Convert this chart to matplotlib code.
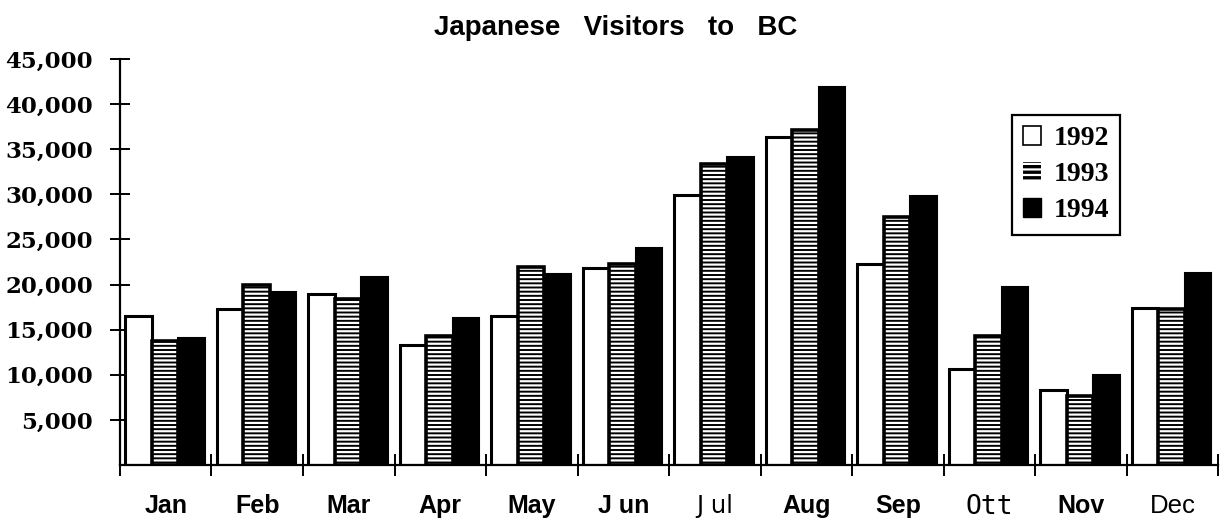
import matplotlib.pyplot as plt
from matplotlib.patches import Patch
import numpy as np

months = ["Jan", "Feb", "Mar", "Apr", "May", "J un", "J ul", "Aug", "Sep", "Ott", "Nov", "Dec"]
visitors_1992 = [16500, 17300, 19000, 13300, 16500, 21800, 29900, 36300, 22300, 10600, 8300, 17400]
visitors_1993 = [13700, 19900, 18400, 14300, 21900, 22300, 33400, 37100, 27500, 14300, 7600, 17300]
visitors_1994 = [14100, 19200, 20800, 16300, 21200, 24000, 34100, 41900, 29800, 19700, 10000, 21300]
y_ticks = [5000, 10000, 15000, 20000, 25000, 30000, 35000, 40000, 45000]


def plot_visitors():
    """
    Grouped bar chart of monthly Japanese visitors for three years
    :return: None
    """
    plt.rcParams['hatch.linewidth'] = 1.6
    fig = plt.figure(figsize=(12.28, 5.21), dpi=100)
    ax = fig.add_axes([0.0977, 0.1075, 0.8943, 0.7793])

    x = np.arange(len(months))
    width = 0.29

    # 1992 - open bars
    ax.bar(x + 0.20, visitors_1992, width, facecolor="white", edgecolor="black", linewidth=2.2, zorder=2)
    # 1993 - black bars with white stripes, outline drawn on top
    ax.bar(x + 0.49, visitors_1993, width, facecolor="black", edgecolor="white", hatch="----",
           linewidth=0, zorder=2)
    ax.bar(x + 0.49, visitors_1993, width, fill=False, edgecolor="black", linewidth=2.6, zorder=3)
    # 1994 - solid black
    ax.bar(x + 0.78, visitors_1994, width, facecolor="black", edgecolor="black", linewidth=1.5, zorder=2)

    ax.set_xlim(0, 12)
    ax.set_ylim(0, 45000)
    for side in ["top", "right"]:
        ax.spines[side].set_visible(False)
    ax.spines["left"].set_linewidth(1.6)
    ax.spines["bottom"].set_linewidth(1.6)

    ax.set_yticks(y_ticks)
    ax.set_yticklabels(["{:,}".format(v) for v in y_ticks], family="DejaVu Serif", fontsize=16.5,
                       fontweight="bold")
    ax.tick_params(axis="y", direction="inout", length=15, width=1.4, pad=12)

    # group boundaries get the tick marks, month names sit at the group centres
    ax.set_xticks(np.arange(0, 13))
    ax.set_xticklabels([])
    ax.tick_params(axis="x", which="major", direction="inout", length=16, width=1.4)
    ax.set_xticks(x + 0.5, minor=True)
    ax.set_xticklabels(months, minor=True)
    ax.tick_params(axis="x", which="minor", length=0, pad=21)
    for label in ax.get_xticklabels(minor=True):
        text = label.get_text()
        if text == "J ul":
            label.set_fontproperties({"family": "Liberation Sans Narrow", "size": 17.5})
        elif text == "Ott":
            label.set_fontproperties({"family": "DejaVu Sans Mono", "size": 19})
        elif text == "Dec":
            label.set_fontproperties({"family": "Liberation Sans", "size": 18.5})
        else:
            label.set_fontproperties({"family": "Liberation Sans", "size": 18, "weight": "bold"})

    # title is centred on the whole figure, not on the plot area
    fig.text(0.501, 0.946, "Japanese   Visitors   to   BC", family="Liberation Sans", fontsize=20,
             fontweight="bold", ha="center", va="center")

    handles = [
        Patch(facecolor="white", edgecolor="black", linewidth=1.2),
        Patch(facecolor="black", edgecolor="white", hatch="---", linewidth=0),
        Patch(facecolor="black", edgecolor="black"),
    ]
    legend = ax.legend(handles, ["1992", "1993", "1994"], loc="upper left", bbox_to_anchor=(0.8124, 0.862),
                       borderaxespad=0,
                       prop={"family": "Liberation Serif", "size": 20, "weight": "bold"},
                       handlelength=0.65, handleheight=0.65, handletextpad=0.45, labelspacing=0.4,
                       fancybox=False, edgecolor="black", framealpha=1, borderpad=0.4)
    legend.get_frame().set_linewidth(1.6)

    fig.savefig("out.png", dpi=100)


plot_visitors()
